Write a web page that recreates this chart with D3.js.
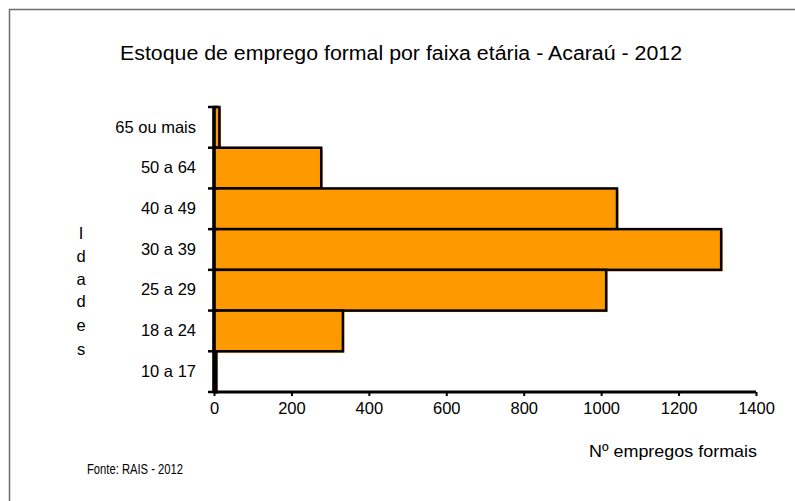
<!DOCTYPE html>
<html>
<head>
<meta charset="utf-8">
<script src="https://cdn.jsdelivr.net/npm/d3@7"></script>
<style>
  html, body { margin: 0; padding: 0; background: #fff; }
  svg text { font-family: "Liberation Sans", Arial, sans-serif; fill: #000; }
</style>
</head>
<body>
<svg id="chart" width="795" height="501"></svg>
<script>
const categories = ["65 ou mais", "50 a 64", "40 a 49", "30 a 39", "25 a 29", "18 a 24", "10 a 17"];
const values = [14, 277, 1041, 1310, 1013, 333, 6];
const xTicks = [0, 200, 400, 600, 800, 1000, 1200, 1400];
const title = "Estoque de emprego formal por faixa etária - Acaraú - 2012";
const yTitle = "Idades";
const xTitle = "Nº empregos formais";
const source = "Fonte: RAIS - 2012";

const svg = d3.select("#chart");
const FONT = "Liberation Sans, Arial, sans-serif";

// outer frame
svg.append("rect").attr("x", 9.5).attr("y", 9.5).attr("width", 820).attr("height", 520)
  .attr("fill", "#fff").attr("stroke", "#6e6e6e").attr("stroke-width", 1.5);

const plot = { left: 214, right: 756, top: 107, bottom: 392 };

const x = d3.scaleLinear().domain([0, 1400]).range([plot.left, plot.right]);
const y = d3.scaleBand().domain(categories).range([plot.top, plot.bottom]).padding(0);

// bars: shadow then bar
const g = svg.append("g");
g.selectAll("rect.shadow").data(values).join("rect")
  .attr("class", "shadow")
  .attr("x", x(0) + 1.5)
  .attr("y", (d, i) => y(categories[i]) + 1.5)
  .attr("width", d => x(d) - x(0))
  .attr("height", y.bandwidth())
  .attr("fill", "#FF9900");
g.selectAll("rect.bar").data(values).join("rect")
  .attr("class", "bar")
  .attr("x", x(0))
  .attr("y", (d, i) => y(categories[i]))
  .attr("width", d => x(d) - x(0))
  .attr("height", y.bandwidth())
  .attr("fill", "#FF9900")
  .attr("stroke", "#000")
  .attr("stroke-width", 2.5);

// x axis
const xAxis = d3.axisBottom(x).tickValues(xTicks).tickSize(4).tickPadding(6).tickFormat(d3.format("d"));
const xg = svg.append("g").attr("transform", `translate(0,${plot.bottom})`).call(xAxis);
xg.select(".domain").attr("d", `M${plot.left},0H${plot.right}`).attr("stroke", "#000").attr("stroke-width", 3);
xg.selectAll(".tick line").attr("stroke", "#000").attr("stroke-width", 2);
xg.selectAll(".tick text").attr("font-size", 16.5).attr("font-family", FONT).attr("fill", "#000");

// y axis
const yAxis = d3.axisLeft(y).tickSize(0).tickPadding(18);
const yg = svg.append("g").attr("transform", `translate(${plot.left},0)`).call(yAxis);
yg.select(".domain").attr("d", `M0,${plot.top}V${plot.bottom}`).attr("stroke", "#000").attr("stroke-width", 3.5);
yg.selectAll(".tick text").attr("font-size", 16.5).attr("font-family", FONT).attr("fill", "#000");
// band boundary tick marks
const edges = categories.map(c => y(c)).concat([plot.bottom]);
yg.selectAll("line.edge").data(edges).join("line")
  .attr("class", "edge")
  .attr("x1", -6).attr("x2", 4)
  .attr("y1", d => d).attr("y2", d => d)
  .attr("stroke", "#000").attr("stroke-width", 2.5);

// title
svg.append("text").attr("x", 401).attr("y", 60).attr("text-anchor", "middle")
  .attr("font-size", 20).attr("textLength", 562).attr("lengthAdjust", "spacingAndGlyphs")
  .text(title);

// y title stacked
const ys = [233, 256, 279, 301, 325, 349];
svg.append("g").selectAll("text").data(yTitle.split("")).join("text")
  .attr("x", 81).attr("y", (d, i) => ys[i] + 6).attr("text-anchor", "middle")
  .attr("font-size", 16.5).text(d => d);

// x title
svg.append("text").attr("x", 757).attr("y", 457).attr("text-anchor", "end")
  .attr("font-size", 17).attr("textLength", 168).attr("lengthAdjust", "spacingAndGlyphs").text(xTitle);

// source
svg.append("text").attr("x", 87).attr("y", 474)
  .attr("font-size", 14.5).attr("textLength", 96).attr("lengthAdjust", "spacingAndGlyphs").text(source);
</script>
</body>
</html>
